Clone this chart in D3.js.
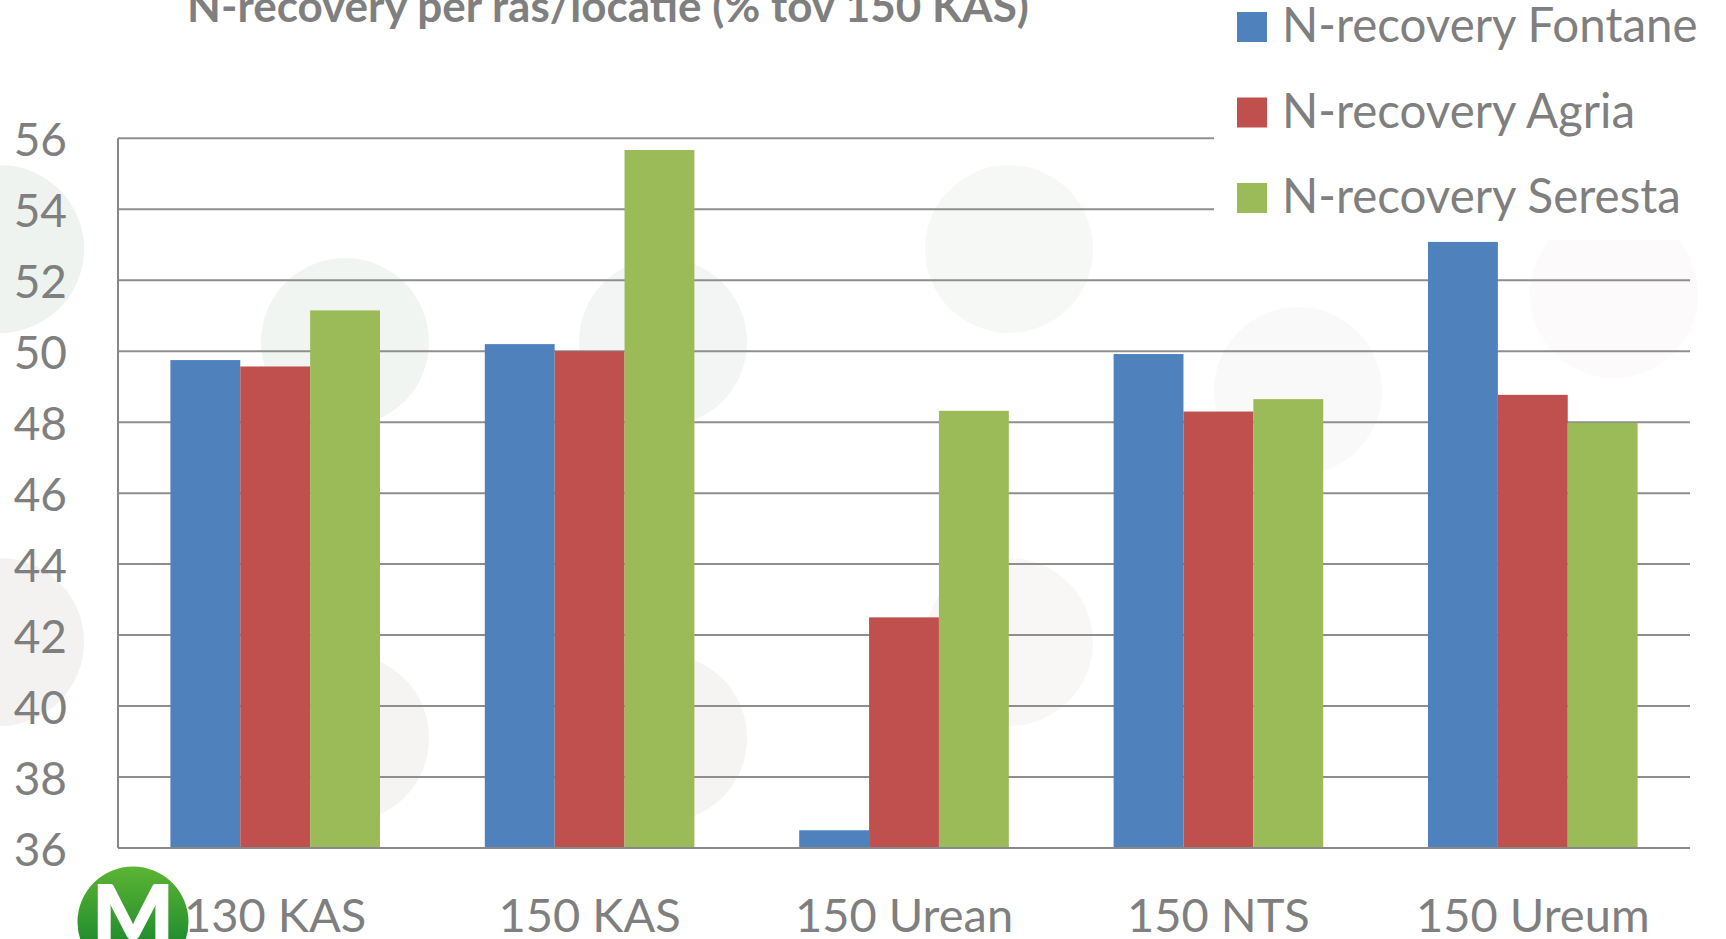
<!DOCTYPE html>
<html>
<head>
<meta charset="utf-8">
<script src="https://cdn.jsdelivr.net/npm/d3@7"></script>
<style>
  html, body { margin: 0; padding: 0; background: #ffffff; }
  svg { display: block; }
  text { font-family: Lato, "Open Sans", sans-serif; fill: #7f7f7f; }
</style>
</head>
<body>
<script>
// Treatment categories and N-recovery per variety (% relative to 150 KAS)
const categories = ["130 KAS", "150 KAS", "150 Urean", "150 NTS", "150 Ureum"];
const fontane = [49.75, 50.2, 36.5, 49.92, 53.08];
const agria   = [49.57, 50.0, 42.5, 48.3, 48.77];
const seresta = [51.15, 55.67, 48.32, 48.65, 47.98];
const seriesNames = ["N-recovery Fontane", "N-recovery Agria", "N-recovery Seresta"];
const yTicks = [36, 38, 40, 42, 44, 46, 48, 50, 52, 54, 56];
const titleText = "N-recovery per ras/locatie (% tov 150 KAS)";

const seriesValues = [fontane, agria, seresta];
const colors = ["#4f81bd", "#c0504d", "#9bbb59"];

const W = 1726, H = 939;
const plot = { left: 118, right: 1690, top: 138.3, bottom: 848 };

// soft decorative dots in the page background
const backdropDots = [
  { cx: 0,    cy: 249, fill: "#eef3ef" },
  { cx: 345,  cy: 342, fill: "#f1f5f2" },
  { cx: 663,  cy: 342, fill: "#f2f5f3" },
  { cx: 1009, cy: 249, fill: "#f6f8f6" },
  { cx: 0,    cy: 642, fill: "#f3f2f0" },
  { cx: 345,  cy: 738, fill: "#f5f4f2" },
  { cx: 663,  cy: 738, fill: "#f5f4f2" },
  { cx: 1009, cy: 642, fill: "#f8f7f6" },
  { cx: 1298, cy: 391, fill: "#faf9f9" },
  { cx: 1614, cy: 294, fill: "#fcfafb" }
];

const svg = d3.select("body").append("svg")
  .attr("width", W).attr("height", H)
  .attr("viewBox", `0 0 ${W} ${H}`);

svg.append("rect").attr("width", W).attr("height", H).attr("fill", "#ffffff");

svg.append("g").selectAll("circle").data(backdropDots).join("circle")
  .attr("cx", d => d.cx).attr("cy", d => d.cy).attr("r", 84)
  .attr("fill", d => d.fill);

const x0 = d3.scaleBand().domain(categories).range([plot.left, plot.right]).padding(0);
const x1 = d3.scaleBand().domain(d3.range(seriesNames.length))
  .range([0, x0.bandwidth()]).paddingInner(0).paddingOuter(0.75);
const y = d3.scaleLinear().domain([36, 56]).range([plot.bottom, plot.top]);

// horizontal gridlines
svg.append("g").selectAll("line").data(yTicks.filter(t => t !== 36)).join("line")
  .attr("x1", plot.left).attr("x2", plot.right)
  .attr("y1", d => y(d)).attr("y2", d => y(d))
  .attr("stroke", "#8e8e8e").attr("stroke-width", 2);

// legend panel sits over the top-right of the plot
const legendBox = { x: 1214, y: 0, w: W - 1214, h: 240 };
svg.append("rect")
  .attr("x", legendBox.x).attr("y", legendBox.y)
  .attr("width", legendBox.w).attr("height", legendBox.h)
  .attr("fill", "#ffffff");

// bars
const groups = svg.append("g").selectAll("g").data(categories).join("g")
  .attr("transform", d => `translate(${x0(d)},0)`);
groups.selectAll("rect")
  .data((c, ci) => seriesValues.map((vals, si) => ({ si, v: vals[ci] })))
  .join("rect")
  .attr("x", d => x1(d.si))
  .attr("width", x1.bandwidth())
  .attr("y", d => y(d.v))
  .attr("height", d => y(36) - y(d.v))
  .attr("fill", d => colors[d.si]);

// axes lines
svg.append("line")
  .attr("x1", plot.left).attr("x2", plot.left)
  .attr("y1", y(56)).attr("y2", plot.bottom)
  .attr("stroke", "#888888").attr("stroke-width", 2);
svg.append("line")
  .attr("x1", plot.left).attr("x2", plot.right)
  .attr("y1", plot.bottom).attr("y2", plot.bottom)
  .attr("stroke", "#888888").attr("stroke-width", 2);

// y tick labels
const yAxis = d3.axisLeft(y).tickValues(yTicks).tickSize(0).tickPadding(0);
const yg = svg.append("g").attr("transform", "translate(67,0)").call(yAxis);
yg.select(".domain").remove();
yg.selectAll("text")
  .attr("font-family", "Lato, 'Open Sans', sans-serif")
  .attr("font-size", 46).attr("fill", "#7f7f7f")
  .attr("text-anchor", "end").attr("dy", null)
  .attr("dominant-baseline", "central");

// x category labels
const xAxis = d3.axisBottom(x0).tickSize(0).tickPadding(0);
const xg = svg.append("g").attr("transform", `translate(0,${plot.bottom})`).call(xAxis);
xg.select(".domain").remove();
xg.selectAll("text")
  .attr("font-family", "Lato, 'Open Sans', sans-serif")
  .attr("font-size", 47).attr("fill", "#7f7f7f")
  .attr("y", 84).attr("dy", null);

// legend entries
const legend = svg.append("g");
seriesNames.forEach((name, i) => {
  const cy = 27 + i * 85.5;
  legend.append("rect")
    .attr("x", 1237).attr("y", cy - 15).attr("width", 30).attr("height", 30)
    .attr("fill", colors[i]);
  legend.append("text")
    .attr("x", 1282).attr("y", cy + 15)
    .attr("font-size", 47.5)
    .text(name);
});

// title, clipped by the top edge of the page
const title = svg.append("text")
  .attr("x", 608).attr("y", 22)
  .attr("text-anchor", "middle")
  .attr("font-weight", "bold")
  .attr("font-size", 42)
  .text(titleText);
const tw = title.node().getComputedTextLength();
title.attr("font-size", 42 * 842 / tw);

// round logo in the bottom-left corner
const defs = svg.append("defs");
const grad = defs.append("linearGradient").attr("id", "logoGrad")
  .attr("x1", 0).attr("y1", 0).attr("x2", 0).attr("y2", 1);
grad.append("stop").attr("offset", "0%").attr("stop-color", "#5cb532");
grad.append("stop").attr("offset", "100%").attr("stop-color", "#067a2e");
svg.append("circle").attr("cx", 133).attr("cy", 922).attr("r", 55.5)
  .attr("fill", "url(#logoGrad)");
svg.append("text")
  .attr("x", 133).attr("y", 946)
  .attr("text-anchor", "middle")
  .attr("font-family", "'Open Sans', Lato, sans-serif")
  .attr("font-weight", 800)
  .attr("font-size", 86)
  .style("fill", "#ffffff")
  .text("M");
</script>
</body>
</html>
